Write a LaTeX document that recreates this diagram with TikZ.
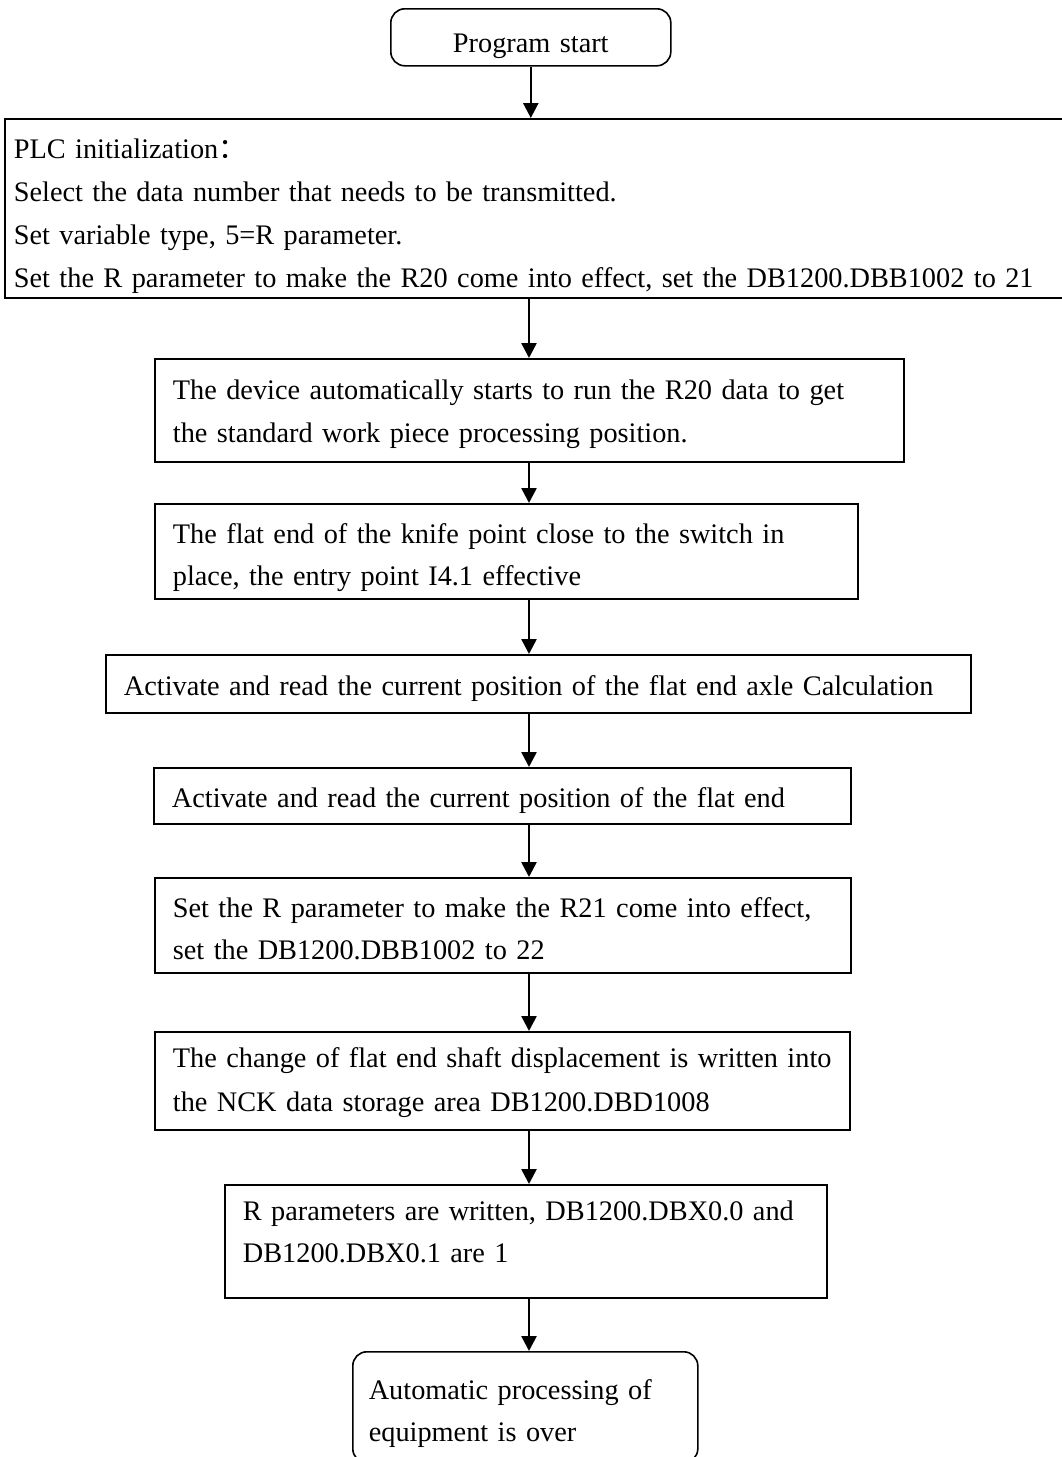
\documentclass[tikz,border=0pt]{standalone}
\usepackage{fontspec}
\setmainfont{Liberation Serif}
\newfontfamily\cjk{Noto Sans CJK SC}
\usetikzlibrary{arrows.meta}
\newcommand{\fs}[1]{\fontsize{28.3pt}{#1pt}\selectfont\hyphenpenalty=10000\exhyphenpenalty=10000}
\tikzset{
  stepbox/.style={draw, line width=1.8pt, anchor=north west, inner ysep=0pt, inner xsep=18pt, align=left},
  endbox/.style={stepbox, rounded corners=14pt, line width=1.6pt},
  arr/.style={line width=2.6pt, -{Triangle[width=15pt,length=15pt]}}
}
\begin{document}
\begin{tikzpicture}[x=1pt,y=-1pt]
\useasboundingbox (0,0) rectangle (1062,1457);
\coordinate (ax) at (529,0);
% start
\node[endbox, align=center, inner xsep=0pt, minimum width=280pt, text width=280pt,
      text height=44pt, text depth=13pt, font=\fs{36}] (start) at (390,8) {Program start};
% PLC initialization
\node[stepbox, inner xsep=9pt, text width=1053pt, text height=40pt, text depth=139pt, font=\fs{43}]
  (plc) at (4,118) {PLC initialization{\cjk ：}\\
Select the data number that needs to be transmitted.\\
Set variable type, 5=R parameter.\\
Set the R parameter to make the R20 come into effect, set the DB1200.DBB1002 to 21};
% box 3
\node[stepbox, text width=713pt, text height=41pt, text depth=62pt, font=\fs{43}]
  (b3) at (154,358) {The device automatically starts to run the R20 data to get\\
the standard work piece processing position.};
% box 4
\node[stepbox, text width=667pt, text height=40pt, text depth=55pt, font=\fs{42}]
  (b4) at (154,503) {The flat end of the knife point close to the switch in\\
place, the entry point I4.1 effective};
% box 5
\node[stepbox, text width=829pt, text height=41pt, text depth=17pt, font=\fs{40}]
  (b5) at (105,654) {Activate and read the current position of the flat end axle Calculation};
% box 6
\node[stepbox, text width=661pt, text height=40pt, text depth=16pt, font=\fs{40}]
  (b6) at (153,767) {Activate and read the current position of the flat end};
% box 7
\node[stepbox, text width=660pt, text height=40pt, text depth=55pt, font=\fs{42}]
  (b7) at (154,877) {Set the R parameter to make the R21 come into effect,\\
set the DB1200.DBB1002 to 22};
% box 8
\node[stepbox, text width=659pt, text height=36pt, text depth=62pt, font=\fs{44}]
  (b8) at (154,1031) {The change of flat end shaft displacement is written into\\
the NCK data storage area DB1200.DBD1008};
% box 9
\node[stepbox, text width=566pt, text height=36pt, text depth=77pt, font=\fs{42}]
  (b9) at (224,1184) {R parameters are written, DB1200.DBX0.0 and\\
DB1200.DBX0.1 are 1};
% box 10
\node[endbox, inner xsep=16pt, text width=313pt, text height=48pt, text depth=63pt, font=\fs{42}]
  (b10) at (352,1351) {Automatic processing of\\
equipment is over};
% connectors
\draw[arr] (start.south) -- (start.south |- plc.north);
\draw[arr] (plc.south -| ax) -- (b3.north -| ax);
\draw[arr] (b3.south -| ax) -- (b4.north -| ax);
\draw[arr] (b4.south -| ax) -- (b5.north -| ax);
\draw[arr] (b5.south -| ax) -- (b6.north -| ax);
\draw[arr] (b6.south -| ax) -- (b7.north -| ax);
\draw[arr] (b7.south -| ax) -- (b8.north -| ax);
\draw[arr] (b8.south -| ax) -- (b9.north -| ax);
\draw[arr] (b9.south -| ax) -- (b10.north -| ax);
\end{tikzpicture}
\end{document}
